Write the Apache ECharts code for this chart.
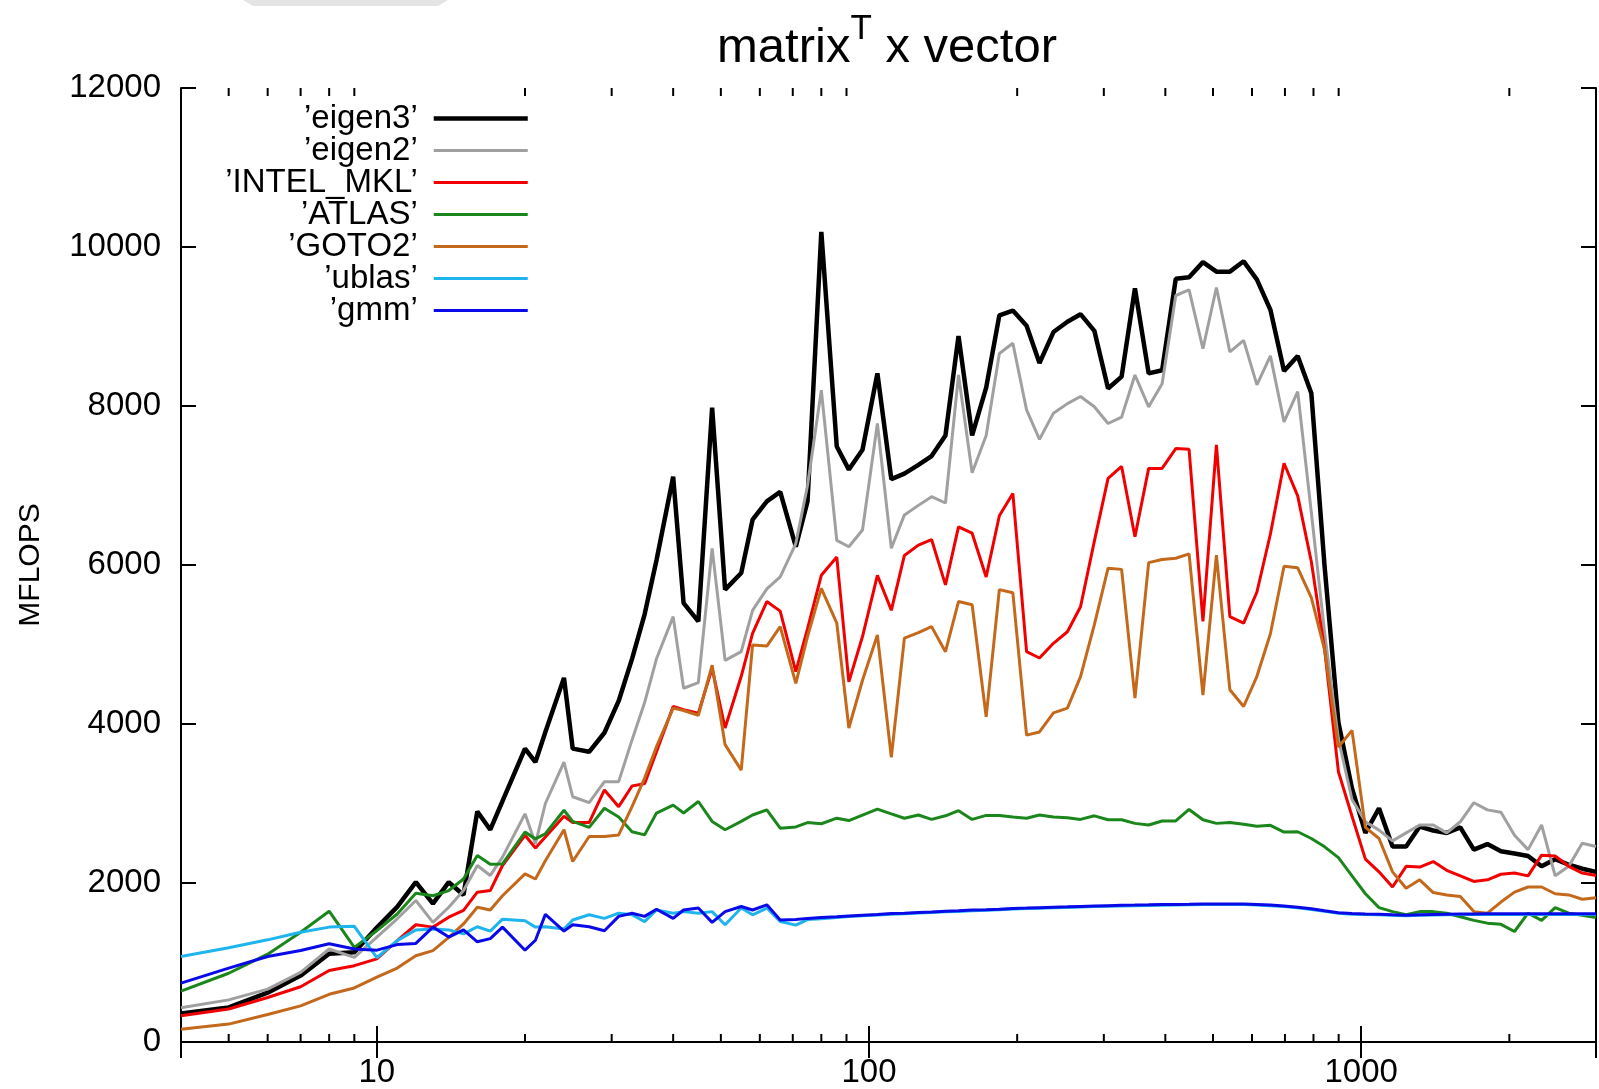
<!DOCTYPE html>
<html>
<head>
<meta charset="utf-8">
<title>matrix^T x vector</title>
<script src="https://cdn.jsdelivr.net/npm/echarts@6/dist/echarts.min.js"></script>
<style>
  html, body { margin: 0; padding: 0; background: #fff; }
  #chart { width: 1599px; height: 1089px; }
</style>
</head>
<body>
<div id="chart"></div>
<script>
// matrix sizes used by the benchmark (x axis, log scale)
var sizes = [4,5,6,7,8,9,10,11,12,13,14,15,16,17,18,20,21,22,24,25,27,29,31,33,35,37,40,42,45,48,
  51,55,58,62,66,71,75,80,86,91,97,104,111,118,126,134,143,152,162,173,184,196,209,222,237,253,269,287,306,326,
  347,370,394,420,447,477,508,541,577,614,654,697,743,792,843,899,958,1020,1087,1158,1234,1315,1401,1492,1590,1694,
  1805,1923,2049,2183,2326,2478,2641,2813,3000];

// MFLOPS per library
var eigen3 = [360,435,620,835,1110,1130,1440,1700,2010,1740,
  2010,1850,2900,2670,3030,3690,3520,3900,4580,3690,
  3650,3890,4290,4820,5380,6060,7110,5520,5290,7980,
  5690,5900,6570,6800,6920,6230,6800,10190,7490,7200,
  7450,8410,7080,7150,7260,7370,7630,8880,7630,8230,
  9140,9200,9010,8540,8930,9060,9155,8945,8220,8370,
  9480,8410,8450,9600,9620,9810,9690,9690,9820,9590,
  9210,8440,8630,8160,5970,4020,3190,2630,2940,2460,
  2460,2710,2660,2630,2700,2420,2490,2400,2370,2340,
  2210,2300,2230,2180,2140];

var eigen2 = [430,530,665,875,1170,1065,1320,1550,1780,1505,
  1695,1905,2220,2095,2325,2870,2495,3000,3520,3085,
  3010,3275,3275,3800,4270,4820,5350,4450,4520,6210,
  4800,4910,5430,5700,5850,6270,7000,8200,6310,6230,
  6440,7780,6210,6630,6750,6860,6780,8390,7160,7630,
  8660,8790,7950,7580,7910,8030,8120,7990,7780,7860,
  8390,7990,8280,9390,9460,8720,9490,8680,8825,8265,
  8630,7800,8180,6660,5140,3810,3050,2770,2665,2530,
  2630,2730,2730,2630,2770,3010,2920,2890,2600,2420,
  2730,2090,2210,2500,2460];

var intelMkl = [330,415,560,695,900,960,1045,1275,1475,1445,
  1570,1655,1885,1905,2220,2600,2440,2580,2840,2760,
  2760,3170,2960,3220,3250,3650,4220,4180,4135,4700,
  3950,4600,5140,5540,5420,4660,5200,5870,6100,4530,
  5100,5870,5430,6120,6250,6320,5750,6480,6400,5850,
  6620,6900,4910,4830,5015,5160,5475,6300,7090,7240,
  6355,7215,7215,7465,7455,5290,7510,5350,5270,5660,
  6390,7280,6870,6040,4930,3400,2840,2300,2140,1950,
  2210,2200,2270,2160,2090,2020,2040,2110,2125,2090,
  2350,2340,2210,2125,2095];

var atlas = [640,865,1105,1380,1645,1190,1400,1610,1870,1840,
  1905,2050,2345,2235,2240,2640,2555,2620,2915,2775,
  2700,2940,2830,2645,2605,2880,2980,2880,3025,2775,
  2670,2775,2855,2920,2690,2705,2760,2745,2815,2785,
  2855,2930,2870,2815,2855,2800,2845,2910,2800,2850,
  2850,2830,2815,2855,2830,2820,2800,2845,2795,2795,
  2750,2730,2780,2780,2925,2795,2750,2760,2740,2715,
  2725,2640,2645,2560,2455,2320,2090,1865,1690,1640,
  1600,1640,1640,1620,1575,1530,1495,1480,1390,1620,
  1530,1690,1620,1595,1565];

var goto2 = [160,225,345,455,600,680,815,930,1085,1150,
  1315,1485,1695,1660,1840,2115,2050,2280,2670,2270,
  2585,2585,2605,2960,3320,3715,4200,4170,4110,4740,
  3740,3420,4995,4980,5225,4510,5100,5705,5270,3950,
  4550,5120,3580,5080,5150,5225,4910,5540,5500,4090,
  5690,5650,3860,3900,4140,4200,4595,5250,5960,5945,
  4325,6030,6070,6085,6140,4365,6125,4430,4220,4600,
  5135,5985,5965,5590,4930,3710,3920,2700,2560,2140,
  1935,2040,1880,1850,1830,1640,1620,1760,1885,1950,
  1950,1865,1850,1795,1815];

var ublas = [1075,1185,1285,1380,1445,1455,1060,1275,1410,1420,
  1410,1360,1450,1395,1545,1525,1445,1450,1420,1535,
  1600,1555,1620,1600,1515,1660,1620,1640,1620,1640,
  1475,1685,1600,1685,1515,1470,1540,1550,1565,1578,
  1588,1598,1607,1614,1622,1628,1638,1643,1652,1658,
  1663,1672,1678,1683,1688,1693,1698,1703,1708,1712,
  1715,1718,1720,1722,1725,1728,1730,1730,1728,1723,
  1715,1705,1688,1668,1643,1618,1608,1603,1600,1594,
  1588,1593,1598,1601,1603,1603,1605,1605,1605,1605,
  1605,1605,1605,1605,1605];

var gmm = [740,930,1075,1150,1235,1170,1155,1225,1240,1445,
  1320,1410,1260,1300,1445,1155,1280,1605,1395,1475,
  1450,1400,1580,1620,1580,1670,1555,1660,1685,1505,
  1640,1705,1660,1725,1535,1540,1555,1565,1575,1585,
  1595,1605,1615,1620,1630,1635,1645,1650,1660,1665,
  1670,1680,1685,1690,1695,1700,1705,1710,1715,1720,
  1722,1725,1728,1730,1732,1735,1737,1737,1735,1730,
  1722,1712,1695,1675,1650,1625,1615,1610,1608,1600,
  1595,1600,1605,1608,1610,1610,1612,1612,1612,1612,
  1612,1612,1612,1612,1612];

var seriesNames = ["\u2019eigen3\u2019", "\u2019eigen2\u2019", "\u2019INTEL_MKL\u2019", "\u2019ATLAS\u2019",
  "\u2019GOTO2\u2019", "\u2019ublas\u2019", "\u2019gmm\u2019"];
var seriesValues = [eigen3, eigen2, intelMkl, atlas, goto2, ublas, gmm];
var seriesColors = ['#000000', '#a0a0a0', '#f20000', '#1b861b', '#c4691c', '#1eb4ee', '#0a0ae8'];
var seriesWidths = [4.5, 3, 3, 3, 3, 3, 3];

// gnuplot style minor ticks of the log x axis
var minorTicks = [5,6,7,8,9,20,30,40,50,60,70,80,90,200,300,400,500,600,700,800,900,2000];

var FONT = 'Liberation Sans, Arial, Helvetica, sans-serif';

function pairs(values) {
  return sizes.map(function (n, i) { return [n, values[i]]; });
}

var chart = echarts.init(document.getElementById('chart'));

var series = seriesNames.map(function (name, i) {
  return {
    name: name,
    type: 'line',
    data: pairs(seriesValues[i]),
    showSymbol: false,
    symbol: 'none',
    lineStyle: { color: seriesColors[i], width: seriesWidths[i] },
    itemStyle: { color: seriesColors[i] },
    emphasis: { disabled: true },
    z: 2 + i
  };
});

series.push({
  type: 'custom',
  silent: true,
  z: 20,
  data: minorTicks.map(function (v) { return [v, 0]; }),
  renderItem: function (params, api) {
    var b = api.coord([api.value(0), 0]);
    var t = api.coord([api.value(0), 12000]);
    var st = { stroke: '#000', lineWidth: 2 };
    return {
      type: 'group',
      children: [
        { type: 'line', shape: { x1: b[0], y1: b[1], x2: b[0], y2: b[1] - 8 }, style: st },
        { type: 'line', shape: { x1: t[0], y1: t[1], x2: t[0], y2: t[1] + 8 }, style: st }
      ]
    };
  }
});

var axisLine = { show: true, lineStyle: { color: '#000', width: 2 } };

var option = {
  backgroundColor: '#fff',
  animation: false,
  textStyle: { fontFamily: FONT },
  title: {
    text: '{m|matrix}{s|T}{m| x vector}',
    left: 887,
    top: 12,
    padding: 0,
    textAlign: 'center',
    textStyle: {
      fontWeight: 'normal',
      rich: {
        m: { fontSize: 49, fontFamily: FONT, fontWeight: 'normal', color: '#000', lineHeight: 72 },
        s: { fontSize: 35, fontFamily: FONT, fontWeight: 'normal', color: '#000', lineHeight: 35, verticalAlign: 'top' }
      }
    }
  },
  legend: {
    data: seriesNames,
    orient: 'vertical',
    align: 'right',
    right: 1069,
    top: 102,
    padding: 0,
    itemWidth: 94,
    itemHeight: 12,
    itemGap: -1,
    selectedMode: false,
    itemStyle: { opacity: 0 },
    lineStyle: { width: 'inherit' },
    textStyle: { fontSize: 33, lineHeight: 32, color: '#000', fontFamily: FONT, padding: [0, 11, 0, 0] }
  },
  grid: { left: 181, right: 2, top: 88, bottom: 47, containLabel: false },
  xAxis: [{
    type: 'log',
    logBase: 10,
    min: 4,
    max: 3000,
    position: 'bottom',
    axisLine: axisLine,
    axisTick: { show: true, inside: true, length: 16, lineStyle: { color: '#000', width: 2 } },
    axisLabel: {
      fontSize: 33, color: '#000', margin: 14, fontFamily: FONT,
      formatter: function (v) {
        var l = Math.log10(v);
        return Math.abs(l - Math.round(l)) < 1e-6 ? String(Math.round(v)) : '';
      }
    },
    splitLine: { show: false }
  }, {
    type: 'log',
    logBase: 10,
    min: 4,
    max: 3000,
    position: 'top',
    axisLine: axisLine,
    axisTick: { show: true, inside: true, length: 16, lineStyle: { color: '#000', width: 2 } },
    axisLabel: { show: false },
    splitLine: { show: false }
  }],
  yAxis: [{
    type: 'value',
    min: 0,
    max: 12000,
    interval: 2000,
    position: 'left',
    name: 'MFLOPS',
    nameLocation: 'middle',
    nameGap: 135,
    nameRotate: 90,
    nameTextStyle: { fontSize: 30, color: '#000', fontFamily: FONT },
    axisLine: axisLine,
    axisTick: { show: true, inside: true, length: 15, lineStyle: { color: '#000', width: 2 } },
    axisLabel: {
      fontSize: 33, color: '#000', margin: 20, fontFamily: FONT,
      formatter: function (v) { return String(v); }
    },
    splitLine: { show: false }
  }, {
    type: 'value',
    min: 0,
    max: 12000,
    interval: 2000,
    position: 'right',
    axisLine: axisLine,
    axisTick: { show: true, inside: true, length: 15, lineStyle: { color: '#000', width: 2 } },
    axisLabel: { show: false },
    splitLine: { show: false }
  }],
  graphic: [{
    type: 'polygon',
    silent: true,
    shape: { points: [[243, 0], [448, 0], [438, 6], [253, 6]] },
    style: { fill: '#e4e4e4' }
  }],
  series: series
};

chart.setOption(option);
</script>
</body>
</html>
